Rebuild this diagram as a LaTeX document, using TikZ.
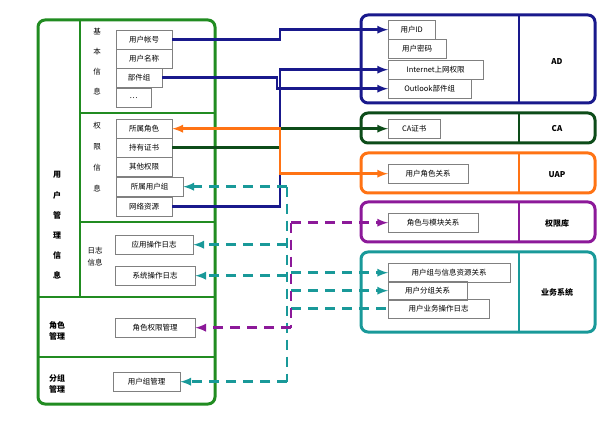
\documentclass[tikz,border=0pt]{standalone}
\usepackage{fontspec}
\setmainfont{Noto Sans CJK SC}
\usetikzlibrary{positioning,arrows}
\definecolor{frameGreen}{rgb}{0.13,0.55,0.13}
\definecolor{adBlue}{rgb}{0.1,0.1,0.55}
\definecolor{caGreen}{rgb}{0.05,0.3,0.1}
\definecolor{uapOrange}{rgb}{1,0.45,0.08}
\definecolor{qxPurple}{rgb}{0.55,0.1,0.6}
\definecolor{ywTeal}{rgb}{0.1,0.6,0.6}
\begin{document}
\begin{tikzpicture}[x=1pt,y=-1pt,
  item/.style={draw=gray,anchor=north west,minimum height=19pt,inner sep=1pt,font=\fontsize{7.5}{8}\selectfont},
  sys/.style={rounded corners=7pt,line width=3pt},
  lab/.style={font=\fontsize{8}{9}\selectfont\bfseries},
  link/.style={line width=2.6pt,-latex},
  dlink/.style={line width=2.6pt,-latex,dash pattern=on 10pt off 7pt}]
\useasboundingbox (0,0) rectangle (607,427);

% left frame
\draw[frameGreen,sys] (38,20) rectangle (215,404);
\draw[frameGreen,line width=1.2pt] (80,20) -- (80,297) (80,113) -- (215,113) (80,222) -- (215,222)
  (38,297) -- (215,297) (38,357) -- (215,357);
\foreach \t [count=\i] in {用,户,管,理,信,息}
  \node[lab] at (57,155+20*\i) {\t};
\foreach \t [count=\i] in {基,本,信,息}
  \node[lab,font=\fontsize{7.5}{8}\selectfont] at (97,12+20*\i) {\t};
\foreach \t [count=\i] in {权,限,信,息}
  \node[lab,font=\fontsize{7.5}{8}\selectfont] at (97,105+21*\i) {\t};
\node[lab,font=\fontsize{7.5}{8}\selectfont,align=center] at (95,257) {日志\\[4pt]信息};
\node[lab,align=center] at (57,331) {角色\\[2pt]管理};
\node[lab,align=center] at (57,384) {分组\\[2pt]管理};

% left items
\node[item,minimum width=56pt] (zh) at (116,30) {用户帐号};
\node[item,minimum width=56pt] (mc) at (116,49) {用户名称};
\node[item,minimum width=46pt] (bj) at (116,68) {部件组};
\node[item,minimum width=35pt] (dd) at (116,88) {…};
\node[item,minimum width=56pt] (js) at (116,119) {所属角色};
\node[item,minimum width=56pt] (zs) at (116,138) {持有证书};
\node[item,minimum width=56pt] (qt) at (116,157) {其他权限};
\node[item,minimum width=67pt] (yhz) at (116,177) {所属用户组};
\node[item,minimum width=56pt] (wl) at (116,197) {网络资源};
\node[item,minimum width=78pt] (yy) at (115,235) {应用操作日志};
\node[item,minimum width=80pt] (xt) at (115,266) {系统操作日志};
\node[item,minimum width=80pt] (jsq) at (115,318) {角色权限管理};
\node[item,minimum width=67pt] (zgl) at (113,372) {用户组管理};

% right systems
\draw[adBlue,sys] (361,15) rectangle (595,103);
\draw[adBlue,line width=1.5pt] (519,15) -- (519,103);
\node[lab] at (557,62) {AD};
\draw[caGreen,sys] (361,113) rectangle (595,143);
\draw[caGreen,line width=1.5pt] (519,113) -- (519,143);
\node[lab] at (557,129) {CA};
\draw[uapOrange,sys] (361,153) rectangle (595,193);
\draw[uapOrange,line width=1.5pt] (519,153) -- (519,193);
\node[lab] at (557,175) {UAP};
\draw[qxPurple,sys] (361,202) rectangle (595,242);
\draw[qxPurple,line width=1.5pt] (519,202) -- (519,242);
\node[lab] at (557,223) {权限库};
\draw[ywTeal,sys] (361,252) rectangle (595,332);
\draw[ywTeal,line width=1.5pt] (519,252) -- (519,332);
\node[lab] at (557,292) {业务系统};

% right items
\node[item,minimum width=47pt] (id) at (388,20) {用户ID};
\node[item,minimum width=58pt] (mm) at (388,39) {用户密码};
\node[item,minimum width=95pt] (net) at (388,60) {Internet上网权限};
\node[item,minimum width=83pt] (ol) at (388,79) {Outlook部件组};
\node[item,minimum width=52pt] (cazs) at (388,119) {CA证书};
\node[item,minimum width=80pt] (jsgx) at (388,164) {用户角色关系};
\node[item,minimum width=90pt] (mkgx) at (388,213) {角色与模块关系};
\node[item,minimum width=122pt] (zyx) at (388,263) {用户组与信息资源关系};
\node[item,minimum width=79pt] (fz) at (388,281) {用户分组关系};
\node[item,minimum width=101pt] (czrz) at (388,299) {用户业务操作日志};

% connectors
\coordinate (vx) at (280,0);
\coordinate (vb) at (277,0);
\coordinate (vt) at (287,0);
\coordinate (vp) at (291,0);
\draw[adBlue,link] (zh.east) -- (zh.east -| vx) -- (vx |- id.west) -- (id.west);
\draw[adBlue,link] (bj.east) -- (bj.east -| vb) -- (vb |- ol.west) -- (ol.west);
\draw[adBlue,link] (wl.east) -- (wl.east -| vx) -- (vx |- net.west) -- (net.west);
\draw[caGreen,link] (zs.east) -- (zs.east -| vx) -- (vx |- cazs.west) -- (cazs.west);
\draw[uapOrange,line width=2.6pt,latex-latex] (js.east) -- (js.east -| vx) -- (vx |- jsgx.west) -- (jsgx.west);
\draw[ywTeal,dlink] (vt |- yhz.east) -- (yhz.east);
\draw[ywTeal,line width=2.6pt,dash pattern=on 10pt off 7pt] (vt |- yhz.east) -- (vt |- zgl.east);
\draw[ywTeal,dlink] (vt |- yy.east) -- (yy.east);
\draw[ywTeal,dlink] (vt |- xt.east) -- (xt.east);
\draw[ywTeal,dlink] (vt |- zgl.east) -- (zgl.east);
\draw[ywTeal,dlink] (vp |- zyx.west) -- (zyx.west);
\draw[ywTeal,dlink] (vp |- fz.west) -- (fz.west);
\draw[ywTeal,line width=2.6pt,dash pattern=on 10pt off 7pt] (vp |- czrz.west) -- (czrz.west);
\draw[qxPurple,line width=2.6pt,dash pattern=on 10pt off 7pt] (vp |- mkgx.west) -- (vp |- jsq.east);
\draw[qxPurple,dlink] (vp |- mkgx.west) -- (mkgx.west);
\draw[qxPurple,dlink] (vp |- jsq.east) -- (jsq.east);
\end{tikzpicture}
\end{document}
